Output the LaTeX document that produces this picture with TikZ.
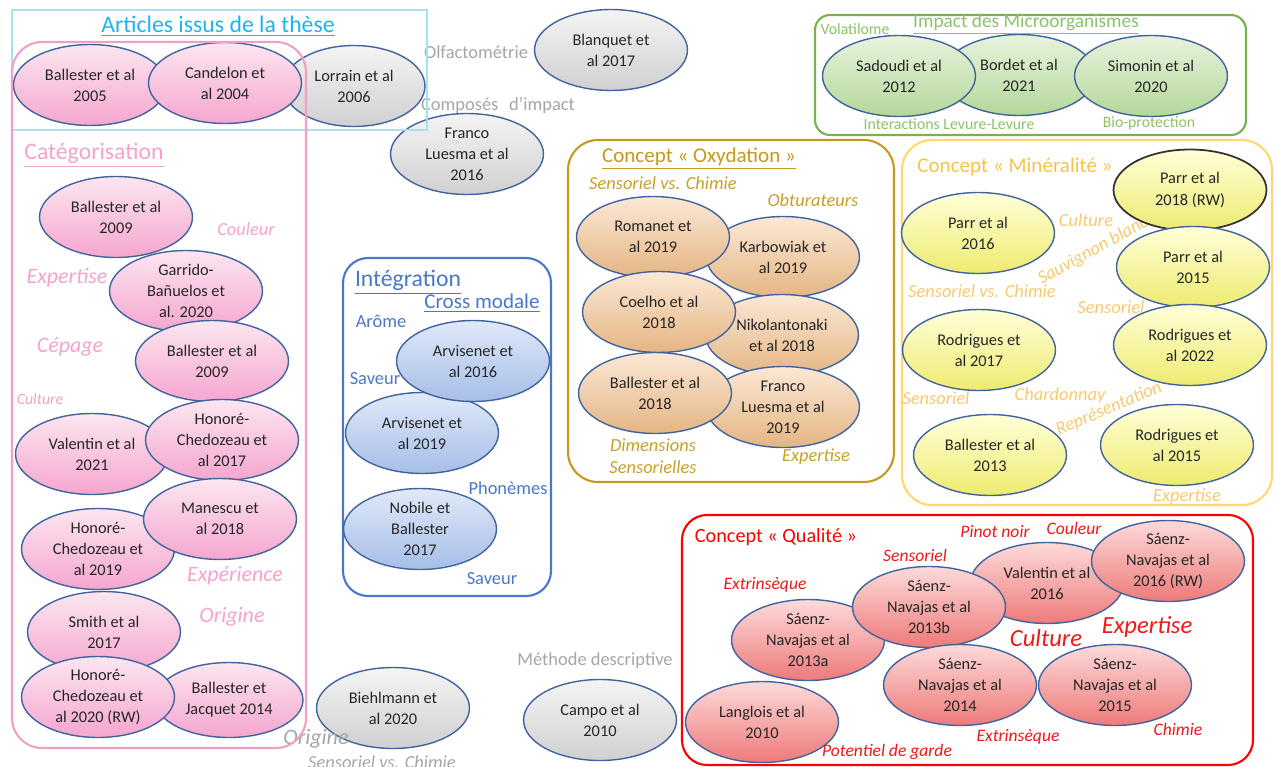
\documentclass[tikz,border=0pt]{standalone}
\usepackage{fontspec}
\setmainfont{Carlito}
\usetikzlibrary{shapes.geometric}

\definecolor{edgeblue}{HTML}{41639E}
\definecolor{cyanline}{HTML}{A9DFF2}
\definecolor{cyantitle}{HTML}{1FB4EE}
\definecolor{pinkline}{HTML}{F0A0C6}
\definecolor{pinktext}{HTML}{F5A3CC}
\definecolor{pinktop}{HTML}{FCE6F1}
\definecolor{pinkbot}{HTML}{F5A6CF}
\definecolor{graytext}{HTML}{A6A6A6}
\definecolor{graytop}{HTML}{F4F4F4}
\definecolor{graybot}{HTML}{D0D0D0}
\definecolor{greenline}{HTML}{77B150}
\definecolor{greentext}{HTML}{8CC36A}
\definecolor{greentop}{HTML}{E8F3DE}
\definecolor{greenbot}{HTML}{B3D89A}
\definecolor{blueline}{HTML}{4A78C8}
\definecolor{bluetop}{HTML}{E0E9F8}
\definecolor{bluebot}{HTML}{A6BEE8}
\definecolor{goldline}{HTML}{C49A1E}
\definecolor{goldtext}{HTML}{C8A02A}
\definecolor{tantop}{HTML}{FBE8D6}
\definecolor{tanbot}{HTML}{E4B583}
\definecolor{yelline}{HTML}{FFD86E}
\definecolor{yeltext}{HTML}{F8CA6E}
\definecolor{yeltitle}{HTML}{F7C44A}
\definecolor{yeltop}{HTML}{FFFFD8}
\definecolor{yelbot}{HTML}{EEEB70}
\definecolor{redline}{HTML}{FF0000}
\definecolor{redtext}{HTML}{F01818}
\definecolor{redtop}{HTML}{FDDADA}
\definecolor{redbot}{HTML}{EE7A7A}

\tikzset{
  paper/.style={ellipse, draw=edgeblue, line width=0.8pt, minimum width=3.06cm,
    minimum height=1.62cm, inner sep=0pt, align=center, text=black!85,
    font=\fontsize{9.3}{12}\selectfont},
  pinkpaper/.style={paper, top color=pinktop, bottom color=pinkbot},
  graypaper/.style={paper, top color=graytop, bottom color=graybot},
  greenpaper/.style={paper, top color=greentop, bottom color=greenbot},
  bluepaper/.style={paper, top color=bluetop, bottom color=bluebot},
  tanpaper/.style={paper, top color=tantop, bottom color=tanbot},
  yelpaper/.style={paper, top color=yeltop, bottom color=yelbot},
  redpaper/.style={paper, top color=redtop, bottom color=redbot},
  bigtitle/.style={inner sep=1pt, font=\fontsize{13.5}{16}\selectfont},
  midtitle/.style={inner sep=1pt, font=\fontsize{12}{14}\selectfont},
  tag/.style={inner sep=1pt, font=\fontsize{10.5}{12}\selectfont\itshape},
  bigtag/.style={inner sep=1pt, font=\fontsize{12.5}{14}\selectfont\itshape},
  smalltag/.style={inner sep=1pt, font=\fontsize{9}{11}\selectfont\itshape},
  word/.style={inner sep=1pt, font=\fontsize{10.5}{12}\selectfont},
  smallword/.style={inner sep=1pt, font=\fontsize{9}{11}\selectfont},
}

\begin{document}
\begin{tikzpicture}[x=0.02cm, y=-0.02cm]
\fill[white] (0,0) rectangle (1274,767);
\useasboundingbox (0,0) rectangle (1274,767);

% cadres
\draw[greenline, line width=1.2pt, rounded corners=0.3cm] (815,15) rectangle (1246,135);
\draw[blueline, line width=1.2pt, rounded corners=0.5cm] (343,258) rectangle (551,596);
\draw[goldline, line width=1.2pt, rounded corners=0.6cm] (568,140) rectangle (894,482);
\draw[yelline, line width=1.2pt, rounded corners=0.6cm] (902,140) rectangle (1272,505);
\draw[redline, line width=1.2pt, rounded corners=0.5cm] (682,515) rectangle (1253,765);

% hors cadres
\node[graypaper] (blanquet) at (611,50) {Blanquet et\\al 2017};
\node[graypaper] (franco16) at (467,154) {Franco\\Luesma et al\\2016};
\node[graypaper] (biehlmann) at (393,708) {Biehlmann et\\al 2020};
\node[graypaper] (campo) at (600,720) {Campo et al\\2010};
\node[word, text=graytext] (olfacto) at (476,52) {Olfactométrie};
\node[word, text=graytext] (composes) at (498,105) {Composés\hspace{0.35em} d’impact};
\node[word, text=graytext] (methode) at (595,661) {Méthode descriptive};
\node[bigtag, text=graytext] (origineb) at (316,739) {Origine};
\node[tag, text=graytext] (senschim) at (382,762) {Sensoriel vs. Chimie};

% articles et categorisation
\node[graypaper, minimum width=2.84cm] (lorrain) at (354,86) {Lorrain et al\\2006};
\node[pinkpaper] (ball05) at (90,85) {Ballester et al\\2005};
\node[pinkpaper] (cand04) at (225,83) {Candelon et\\al 2004};
\node[pinkpaper] (ball09a) at (116,217) {Ballester et al\\2009};
\node[pinkpaper] (garr20) at (186,291) {Garrido-\\Bañuelos et\\al. 2020};
\node[pinkpaper] (ball09b) at (212,361) {Ballester et al\\2009};
\node[pinkpaper] (vale21) at (92,454) {Valentin et al\\2021};
\node[pinkpaper] (hono17) at (222,440) {Honoré-\\Chedozeau et\\al 2017};
\node[pinkpaper] (hono19) at (98,549) {Honoré-\\Chedozeau et\\al 2019};
\node[pinkpaper] (mane18) at (220,519) {Manescu et\\al 2018};
\node[pinkpaper] (smit17) at (104,632) {Smith et al\\2017};
\node[pinkpaper, minimum width=2.96cm, minimum height=1.5cm] (ball14) at (229,700) {Ballester et\\Jacquet 2014};
\node[pinkpaper] (hono20) at (98,697) {Honoré-\\Chedozeau et\\al 2020 (RW)};
\draw[cyanline, line width=0.6pt] (12,10) rectangle (427,130);
\draw[pinkline, line width=1.2pt, rounded corners=0.6cm] (12,42) rectangle (306,748);
\node[bigtitle, text=cyantitle] (theses) at (218,26) {\underline{Articles issus de la thèse}};
\node[bigtitle, text=pinktext] (categ) at (94,155) {\underline{Catégorisation}};
\node[tag, text=pinktext] (couleurp) at (246,229) {Couleur};
\node[bigtag, text=pinktext] (expertp) at (67,278) {Expertise};
\node[bigtag, text=pinktext] (cepage) at (70,347) {Cépage};
\node[smalltag, text=pinktext] (culturep) at (40,399) {Culture};
\node[bigtag, text=pinktext] (experience) at (235,576) {Expérience};
\node[bigtag, text=pinktext] (originep) at (232,617) {Origine};

% microorganismes
\node[greenpaper] (bordet) at (1019,75) {Bordet et al\\2021};
\node[greenpaper] (sadoudi) at (899,76) {Sadoudi et al\\2012};
\node[greenpaper] (simonin) at (1151,76) {Simonin et al\\2020};
\node[midtitle, text=greentext, font=\fontsize{11}{13}\selectfont] (micro) at (1026,24) {\underline{Impact des Microorganismes}};
\node[smallword, text=greentext] (volatilome) at (855,29) {Volatilome};
\node[smallword, text=greentext] (levure) at (949,124) {Interactions Levure-Levure};
\node[smallword, text=greentext] (bioprot) at (1149,123) {Bio-protection};

% integration
\node[bluepaper] (arvi19) at (422,433) {Arvisenet et\\al 2019};
\node[bluepaper] (arvi16) at (473,361) {Arvisenet et\\al 2016};
\node[bluepaper] (nobile) at (420,529) {Nobile et\\Ballester\\2017};
\node[bigtitle, text=blueline] (integ) at (408,282) {\underline{Intégration}};
\node[midtitle, text=blueline] (cross) at (482,303) {\underline{Cross modale}};
\node[word, text=blueline] (arome) at (381,321) {Arôme};
\node[word, text=blueline] (saveura) at (375,379) {Saveur};
\node[word, text=blueline] (phonemes) at (508,488) {Phonèmes};
\node[word, text=blueline] (saveurb) at (492,579) {Saveur};

% oxydation
\node[tanpaper] (karb) at (783,257) {Karbowiak et\\al 2019};
\node[tanpaper] (niko) at (782,335) {Nikolantonaki\\et al 2018};
\node[tanpaper] (franco19) at (783,407) {Franco\\Luesma et al\\2019};
\node[tanpaper] (roma) at (653,237) {Romanet et\\al 2019};
\node[tanpaper] (coel) at (659,312) {Coelho et al\\2018};
\node[tanpaper] (ball18) at (655,393) {Ballester et al\\2018};
\node[midtitle, text=goldline] (oxyd) at (699,159) {\underline{Concept « Oxydation »}};
\node[tag, text=goldtext] (senschimo) at (663,183) {Sensoriel vs. Chimie};
\node[tag, text=goldtext] (obtur) at (813,200) {Obturateurs};
\node[tag, text=goldtext, align=center, font=\fontsize{10.5}{12.5}\selectfont\itshape] (dimens) at (653,456) {Dimensions\\Sensorielles};
\node[tag, text=goldtext] (expertox) at (816,457) {Expertise};

% mineralite
\node[tag, text=yeltext, rotate=29] (sauvignon) at (1093,251) {Sauvignon blanc};
\node[yelpaper] (parr16) at (978,233) {Parr et al\\2016};
\node[yelpaper, draw=black!80, line width=1pt] (parr18) at (1190,190) {Parr et al\\2018 (RW)};
\node[yelpaper] (parr15) at (1193,267) {Parr et al\\2015};
\node[yelpaper] (rodr22) at (1190,345) {Rodrigues et\\al 2022};
\node[yelpaper] (rodr17) at (979,350) {Rodrigues et\\al 2017};
\node[yelpaper] (ball13) at (990,455) {Ballester et al\\2013};
\node[yelpaper] (rodr15) at (1177,445) {Rodrigues et\\al 2015};
\node[midtitle, text=yeltitle] (miner) at (1015,167) {Concept « Minéralité »};
\node[tag, text=yeltext] (culturem) at (1086,220) {Culture};
\node[tag, text=yeltext] (senschimm) at (982,291) {Sensoriel vs. Chimie};
\node[tag, text=yeltext] (sensma) at (1111,307) {Sensoriel};
\node[tag, text=yeltext] (sensmb) at (936,398) {Sensoriel};
\node[tag, text=yeltext] (chardo) at (1060,396) {Chardonnay};
\node[tag, text=yeltext, rotate=23] (repres) at (1109,409) {Représentation};
\node[tag, text=yeltext] (expertm) at (1187,497) {Expertise};

% qualite
\node[redpaper] (vale16) at (1047,583) {Valentin et al\\2016};
\node[redpaper] (saen16) at (1168,561) {Sáenz-\\Navajas et al\\2016 (RW)};
\node[redpaper] (saen13a) at (808,640) {Sáenz-\\Navajas et al\\2013a};
\node[redpaper] (saen13b) at (929,607) {Sáenz-\\Navajas et al\\2013b};
\node[redpaper] (saen14) at (960,685) {Sáenz-\\Navajas et al\\2014};
\node[redpaper] (saen15) at (1115,685) {Sáenz-\\Navajas et al\\2015};
\node[redpaper] (langlois) at (762,722) {Langlois et al\\2010};
\node[midtitle, text=redline, font=\fontsize{11.5}{13}\selectfont] (qualite) at (776,537) {Concept « Qualité »};
\node[tag, text=redtext, font=\fontsize{10}{12}\selectfont\itshape] (pinot) at (995,532) {Pinot noir};
\node[tag, text=redtext, font=\fontsize{10}{12}\selectfont\itshape] (couleurq) at (1074,528) {Couleur};
\node[tag, text=redtext, font=\fontsize{10}{12}\selectfont\itshape] (sensq) at (915,555) {Sensoriel};
\node[tag, text=redtext, font=\fontsize{10}{12}\selectfont\itshape] (extra) at (765,585) {Extrinsèque};
\node[bigtag, text=redtext, font=\fontsize{14}{16}\selectfont\itshape] (cultureq) at (1046,638) {Culture};
\node[bigtag, text=redtext, font=\fontsize{14}{16}\selectfont\itshape] (expertq) at (1147,627) {Expertise};
\node[tag, text=redtext, font=\fontsize{10}{12}\selectfont\itshape] (garde) at (887,752) {Potentiel de garde};
\node[tag, text=redtext, font=\fontsize{10}{12}\selectfont\itshape] (extrb) at (1018,737) {Extrinsèque};
\node[tag, text=redtext, font=\fontsize{10}{12}\selectfont\itshape] (chimie) at (1178,729) {Chimie};
\end{tikzpicture}
\end{document}
